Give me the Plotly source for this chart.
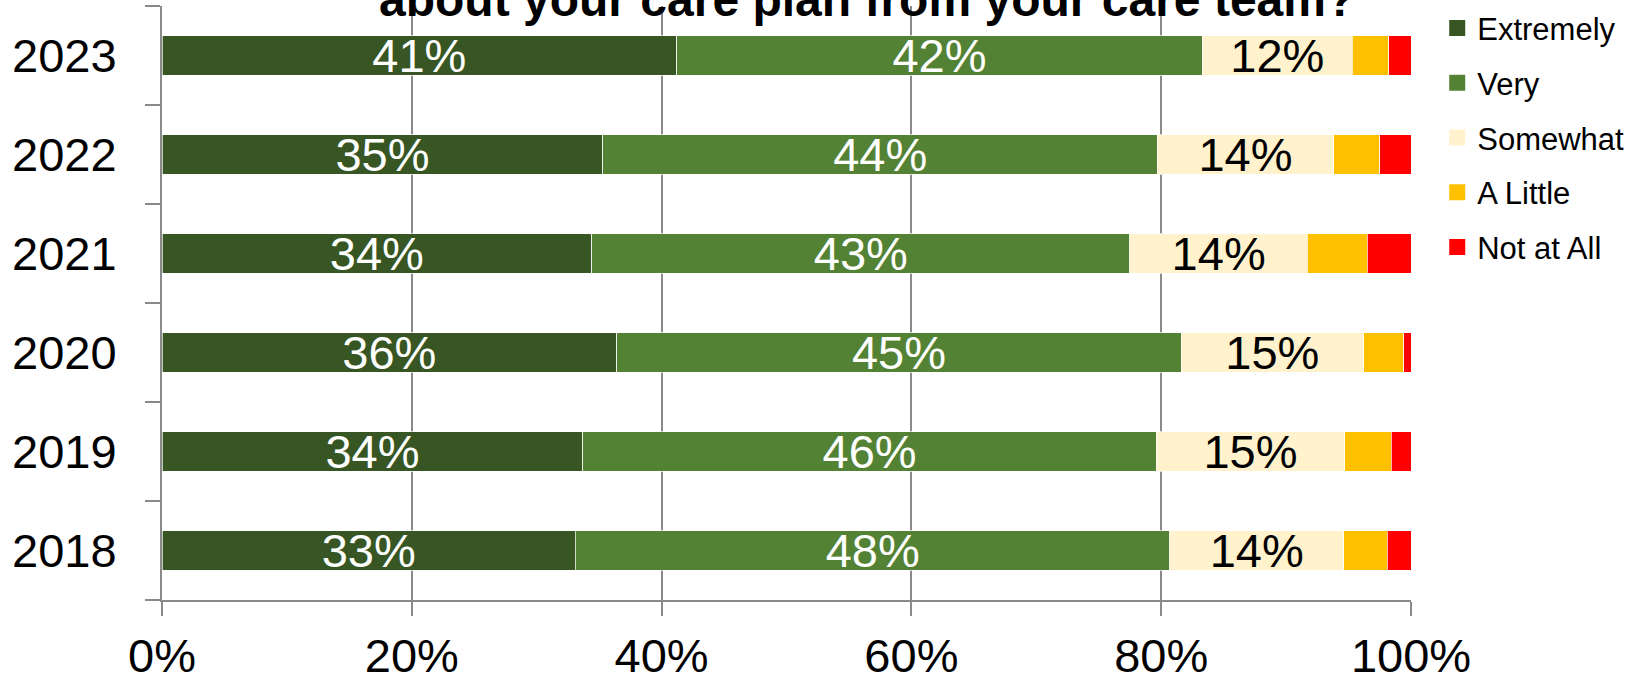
import plotly.graph_objects as go

# Survey years (bottom to top) and response shares in percent
years = ["2018", "2019", "2020", "2021", "2022", "2023"]
extremely = [33.1, 33.7, 36.4, 34.4, 35.3, 41.2]
very = [47.6, 45.9, 45.2, 43.1, 44.4, 42.1]
somewhat = [13.9, 15.1, 14.6, 14.2, 14.1, 12.0]
a_little = [3.5, 3.7, 3.2, 4.8, 3.7, 2.9]
not_at_all = [1.9, 1.6, 0.6, 3.5, 2.5, 1.8]

series_names = ["Extremely", "Very", "Somewhat", "A Little", "Not at All"]
series_values = [extremely, very, somewhat, a_little, not_at_all]
series_colors = ["#375623", "#548235", "#FFF2CC", "#FFC000", "#FF0000"]
label_colors = ["white", "white", "black", None, None]

x_ticks = [0, 20, 40, 60, 80, 100]
title_text = "about your care plan from your care team?"

FONT = "Arial, 'Liberation Sans', sans-serif"
GREY = "#8a8a8a"

fig = go.Figure()

for name, vals, color, lab in zip(series_names, series_values, series_colors, label_colors):
    fig.add_trace(go.Bar(
        y=years, x=vals, orientation="h", name=name,
        marker=dict(color=color, line=dict(color="rgba(255,255,255,0.7)", width=1)),
        texttemplate="%{x:.0f}%" if lab else None,
        textposition="inside" if lab else "none",
        insidetextanchor="middle",
        constraintext="none",
        textfont=dict(family=FONT, size=47, color=lab or "black"),
        showlegend=False, hoverinfo="skip",
    ))

# Legend entries drawn as square markers
for name, color in zip(series_names, series_colors):
    fig.add_trace(go.Scatter(
        x=[None], y=[None], mode="markers", name=name, legendgroup=name,
        marker=dict(symbol="square", size=16, color=color),
    ))

fig.update_layout(
    barmode="stack",
    bargap=0.6,
    width=1641, height=678,
    margin=dict(l=162, r=230, t=6, b=78, pad=0, autoexpand=False),
    paper_bgcolor="white", plot_bgcolor="white",
    font=dict(family=FONT, color="black"),
    legend=dict(
        x=1.021, xanchor="left", y=1.008, yanchor="top",
        font=dict(family=FONT, size=31, color="black"),
        tracegroupgap=11.5, itemsizing="trace",
        bgcolor="rgba(0,0,0,0)", borderwidth=0,
    ),
    annotations=[dict(
        text="<b>" + title_text + "</b>",
        xref="paper", yref="paper", x=0.5647, y=1.0103,
        xanchor="center", yanchor="middle", showarrow=False,
        font=dict(family=FONT, size=48, color="black"),
    )],
)

fig.update_xaxes(
    range=[0, 100], tickmode="array", tickvals=x_ticks,
    ticktext=[f"{v}%" for v in x_ticks],
    showgrid=True, gridcolor=GREY, gridwidth=2,
    showline=True, linecolor=GREY, linewidth=2,
    ticks="outside", ticklen=14, tickwidth=2, tickcolor=GREY,
    tickfont=dict(family=FONT, size=47, color="black"),
    automargin=False,
    zeroline=False, layer="below traces",
)
fig.update_yaxes(
    type="category", categoryorder="array", categoryarray=years,
    range=[-0.5, 5.5],
    showline=True, linecolor=GREY, linewidth=2,
    ticks="outside", ticklen=15, tickwidth=2, tickcolor=GREY,
    tickson="boundaries",
    showgrid=False, automargin=False,
    tickfont=dict(family=FONT, size=47, color="black"),
    ticklabelstandoff=34,
)

fig.write_html("out.html")
